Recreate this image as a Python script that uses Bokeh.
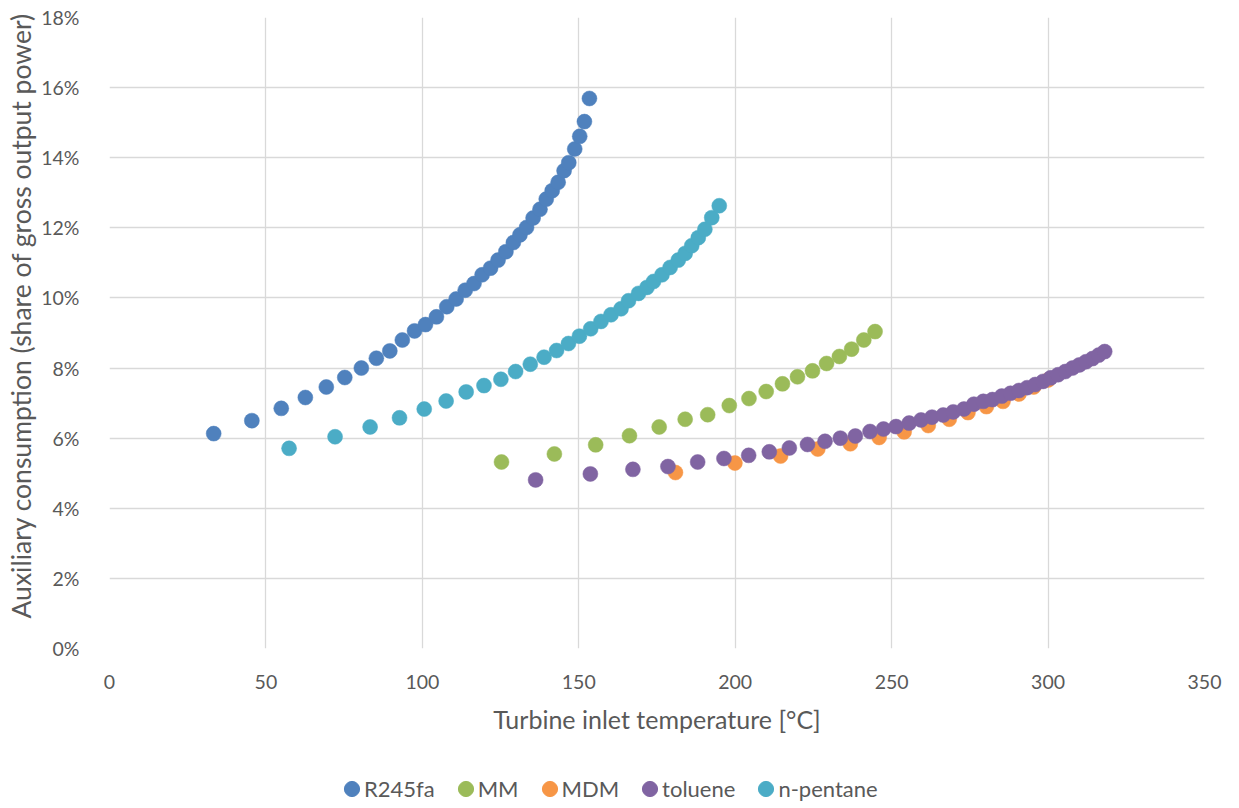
from bokeh.plotting import figure
from bokeh.layouts import column
from bokeh.models import Legend, LegendItem, PrintfTickFormatter, FixedTicker, Range1d, Title
from bokeh.embed import file_html
from bokeh.resources import INLINE

# ---- data (temperature in degC, auxiliary consumption in %) ----
r245fa_x = [33.3, 45.5, 54.9, 62.6, 69.3, 75.2, 80.5, 85.3, 89.6, 93.6, 97.5, 101.0,
            104.5, 107.8, 110.8, 113.7, 116.5, 119.1, 121.8, 124.2, 126.7, 129.1,
            131.2, 133.3, 135.4, 137.6, 139.6, 141.5, 143.4, 145.3, 146.8, 148.7,
            150.3, 151.8, 153.4]
r245fa_y = [6.13, 6.50, 6.85, 7.16, 7.46, 7.73, 8.00, 8.28, 8.49, 8.80, 9.06, 9.24,
            9.46, 9.75, 9.97, 10.22, 10.41, 10.66, 10.85, 11.08, 11.32, 11.58,
            11.80, 12.01, 12.28, 12.53, 12.82, 13.06, 13.30, 13.63, 13.86, 14.25,
            14.61, 15.03, 15.69]

mm_x = [125.3, 142.2, 155.4, 166.2, 175.7, 184.0, 191.2, 198.1, 204.4, 209.9, 215.1,
        219.9, 224.7, 229.2, 233.3, 237.2, 241.1, 244.7]
mm_y = [5.32, 5.55, 5.81, 6.07, 6.32, 6.54, 6.67, 6.93, 7.13, 7.33, 7.55,
        7.75, 7.92, 8.13, 8.33, 8.54, 8.80, 9.04]

mdm_x = [180.9, 199.9, 214.5, 226.4, 236.8, 246.0, 254.0, 261.7, 268.4, 274.4, 280.3,
         285.6, 290.7, 295.4, 300.0]
mdm_y = [5.02, 5.29, 5.49, 5.69, 5.84, 6.02, 6.18, 6.36, 6.54, 6.73, 6.90,
         7.05, 7.26, 7.46, 7.66]

toluene_x = [136.2, 153.7, 167.3, 178.5, 188.0, 196.4, 204.3, 210.9, 217.3, 223.1,
             228.7, 233.6, 238.4, 243.1, 247.4, 251.4, 255.6, 259.4, 262.9, 266.5,
             269.7, 273.1, 276.3, 279.3, 282.2, 285.2, 288.0, 290.7, 293.3, 295.9,
             298.4, 300.8, 303.2, 305.5, 307.8, 310.0, 312.1, 314.2, 316.2, 318.1]
toluene_y = [4.81, 4.98, 5.11, 5.19, 5.32, 5.42, 5.51, 5.61, 5.72, 5.82,
             5.91, 6.00, 6.06, 6.19, 6.26, 6.33, 6.43, 6.52, 6.60, 6.66,
             6.75, 6.83, 6.97, 7.05, 7.10, 7.20, 7.28, 7.36, 7.44, 7.53,
             7.62, 7.72, 7.81, 7.90, 8.00, 8.09, 8.18, 8.27, 8.37, 8.47]

pentane_x = [57.4, 72.1, 83.3, 92.7, 100.6, 107.6, 114.0, 119.7, 125.1, 129.8, 134.5,
             138.9, 142.9, 146.7, 150.2, 153.8, 157.1, 160.3, 163.5, 165.9, 169.1,
             171.8, 173.9, 176.6, 179.2, 181.8, 184.0, 186.1, 188.2, 190.3, 192.5,
             194.9]
pentane_y = [5.71, 6.04, 6.32, 6.58, 6.83, 7.06, 7.32, 7.50, 7.68, 7.90, 8.11,
             8.31, 8.50, 8.70, 8.91, 9.12, 9.33, 9.52, 9.69, 9.92, 10.13,
             10.30, 10.47, 10.66, 10.87, 11.08, 11.27, 11.49, 11.72, 11.96, 12.29,
             12.63]

series_names = ["R245fa", "MM", "MDM", "toluene", "n-pentane"]
series_colors = ["#4F81BD", "#9BBB59", "#F79646", "#8064A2", "#4BACC6"]
series_data = [(r245fa_x, r245fa_y), (mm_x, mm_y), (mdm_x, mdm_y),
               (toluene_x, toluene_y), (pentane_x, pentane_y)]

x_ticks = [0, 50, 100, 150, 200, 250, 300, 350]
y_ticks = [0, 2, 4, 6, 8, 10, 12, 14, 16, 18]

FONT = "Lato"
TXT = "#595959"
W = 1239

p = figure(width=W, height=768, output_backend="svg", toolbar_location=None,
           x_range=Range1d(0, 350), y_range=Range1d(0, 18),
           min_border_left=107, min_border_right=35, min_border_top=17,
           min_border_bottom=120)
p.outline_line_color = None
p.background_fill_color = "white"
p.border_fill_color = "white"

p.xaxis.ticker = FixedTicker(ticks=x_ticks)
p.yaxis.ticker = FixedTicker(ticks=y_ticks)
p.yaxis.formatter = PrintfTickFormatter(format="%d%%")

for ax in (p.xaxis[0], p.yaxis[0]):
    ax.axis_line_color = None
    ax.major_tick_line_color = None
    ax.minor_tick_line_color = None
    ax.major_label_text_font = FONT
    ax.major_label_text_font_size = "19.5px"
    ax.major_label_text_color = TXT
    ax.axis_label_text_font = FONT
    ax.axis_label_text_font_style = "normal"
    ax.axis_label_text_color = TXT

p.xaxis.axis_label_text_font_size = "25px"
p.xaxis.axis_label = "Turbine inlet temperature [°C]"
p.xaxis.major_label_standoff = 20
p.xaxis.axis_label_standoff = 12
p.yaxis.major_label_standoff = 24

# y-axis title (placed as a side title so that it can sit slightly above centre)
ytitle = Title(text="Auxiliary consumption (share of gross output power)",
               align="left", offset=30, text_font=FONT, text_font_size="26.5px",
               text_font_style="normal", text_color=TXT, standoff=4)
p.add_layout(ytitle, "left")

p.xgrid.grid_line_color = "#D9D9D9"
p.ygrid.grid_line_color = "#D9D9D9"
p.xgrid.grid_line_width = 1.3
p.ygrid.grid_line_width = 1.3

for name, color, (xs, ys) in zip(series_names, series_colors, series_data):
    p.scatter(xs, ys, size=15, marker="circle", fill_color=color,
              line_color=color, line_width=0.5)

# ---- legend strip below the chart ----
lf = figure(width=W, height=40, output_backend="svg", toolbar_location=None,
            x_range=Range1d(0, 1), y_range=Range1d(0, 1),
            x_axis_location=None, y_axis_location=None,
            min_border_left=0, min_border_right=0, min_border_top=0,
            min_border_bottom=0)
lf.outline_line_color = None
lf.grid.visible = False
items = []
for name, color in zip(series_names, series_colors):
    r = lf.ellipse(x=[-10], y=[-10], width=15, height=15, width_units="screen",
                   height_units="screen", fill_color=color, line_color=color)
    items.append(LegendItem(label=name, renderers=[r]))

legend = Legend(items=items, orientation="horizontal", location=(233, 6))
legend.label_text_font = FONT
legend.label_text_font_size = "22px"
legend.label_text_color = TXT
legend.glyph_width = 19
legend.glyph_height = 19
legend.label_standoff = 3
legend.spacing = 21
legend.border_line_color = None
legend.background_fill_alpha = 0
legend.margin = 0
legend.padding = 0
lf.add_layout(legend, "center")

open("out.html", "w").write(file_html(column(p, lf, spacing=0), INLINE))
